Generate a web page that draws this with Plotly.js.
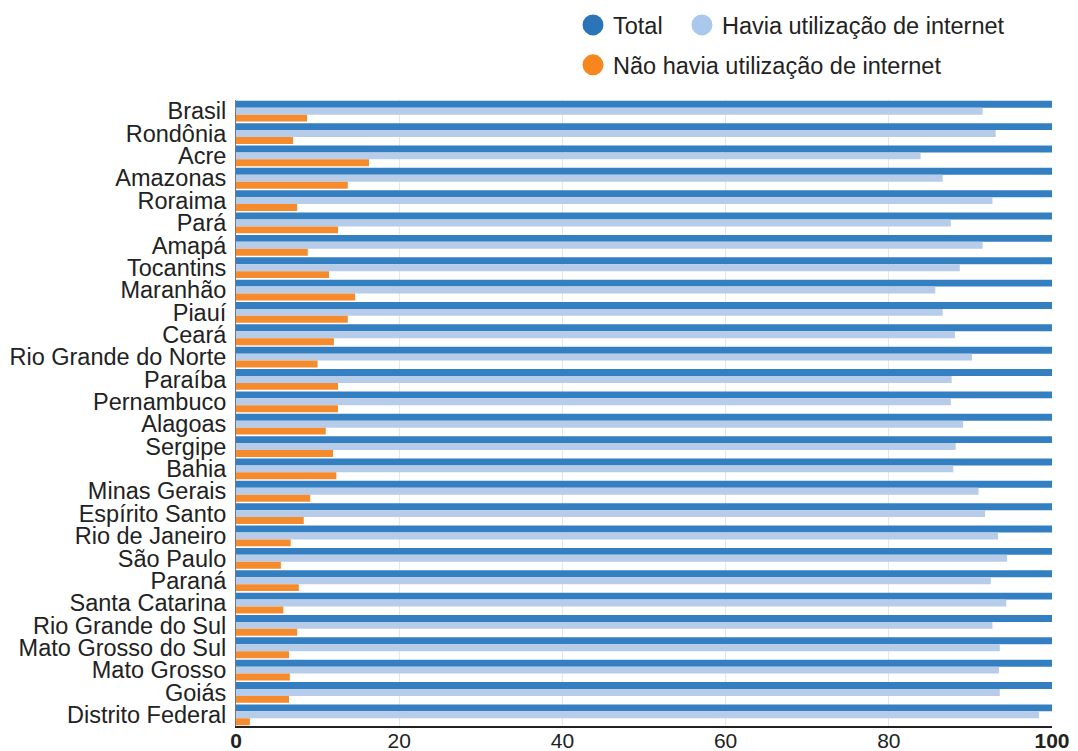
<!DOCTYPE html>
<html>
<head>
<meta charset="utf-8">
<script src="https://cdn.plot.ly/plotly-3.0.1.min.js"></script>
<style>html,body{margin:0;padding:0;background:#fff;}#chart{width:1078px;height:751px;}</style>
</head>
<body>
<div id="chart"></div>
<script>
var categories = ["Brasil","Rondônia","Acre","Amazonas","Roraima","Pará","Amapá","Tocantins","Maranhão","Piauí","Ceará","Rio Grande do Norte","Paraíba","Pernambuco","Alagoas","Sergipe","Bahia","Minas Gerais","Espírito Santo","Rio de Janeiro","São Paulo","Paraná","Santa Catarina","Rio Grande do Sul","Mato Grosso do Sul","Mato Grosso","Goiás","Distrito Federal"];
var total = [100,100,100,100,100,100,100,100,100,100,100,100,100,100,100,100,100,100,100,100,100,100,100,100,100,100,100,100];
var havia = [91.5,93.1,83.9,86.6,92.7,87.6,91.5,88.7,85.7,86.6,88.1,90.2,87.7,87.6,89.1,88.2,87.9,91.0,91.8,93.4,94.5,92.5,94.4,92.7,93.6,93.5,93.6,98.4];
var naoHavia = [8.7,7.0,16.3,13.7,7.5,12.5,8.8,11.4,14.6,13.7,12.0,10.0,12.5,12.5,11.0,11.9,12.3,9.1,8.3,6.7,5.5,7.7,5.8,7.5,6.5,6.6,6.5,1.7];
var seriesNames = ["Total","Havia utilização de internet","Não havia utilização de internet"];
var xTickVals = [0,20,40,60,80,100];
var xTickText = ["<b>0</b>","20","40","60","80","<b>100</b>"];

var colors = ["#337fc1","#b6cce8","#f68b2d"];
var legendColors = ["#2a74b8","#a9c8ec","#f7861f"];
var values = [total, havia, naoHavia];

var data = [];
for (var i = 0; i < 3; i++) {
  data.push({
    type: "bar", orientation: "h",
    x: values[i], y: categories,
    name: seriesNames[i],
    marker: {color: colors[i]},
    showlegend: false,
    hoverinfo: "x+y+name"
  });
}
var legendIds = ["legend","legend2","legend3"];
for (var j = 0; j < 3; j++) {
  data.push({
    type: "scatter", mode: "markers",
    x: [null], y: [null],
    name: seriesNames[j],
    legend: legendIds[j],
    marker: {color: legendColors[j], size: 16, symbol: "circle", line: {color: legendColors[j], width: 5}},
    showlegend: true,
    hoverinfo: "skip"
  });
}

var font = "Liberation Sans, Arial, sans-serif";
function leg(x, y) {
  return {
    orientation: "h", x: x, xanchor: "left", y: y, yanchor: "middle",
    font: {size: 23.5, color: "#222", family: font},
    bgcolor: "rgba(0,0,0,0)", itemclick: false, itemdoubleclick: false
  };
}
var layout = {
  width: 1078, height: 751,
  margin: {l: 236, r: 26, t: 100, b: 25, autoexpand: false},
  paper_bgcolor: "#ffffff", plot_bgcolor: "#ffffff",
  barmode: "group", bargap: 0.07, bargroupgap: 0,
  font: {family: font, color: "#222", size: 22},
  xaxis: {
    range: [0, 100], tickvals: xTickVals, ticktext: xTickText,
    showgrid: true, gridcolor: "#e6e6e6", gridwidth: 1,
    zeroline: false, showline: true, linecolor: "#222", linewidth: 2,
    ticks: "", ticklabelstandoff: -5,
    tickfont: {size: 21, color: "#222", family: font},
    fixedrange: true
  },
  yaxis: {
    type: "category", categoryorder: "array", categoryarray: categories,
    tickmode: "array", tickvals: categories, ticktext: categories,
    autorange: "reversed",
    showgrid: false, zeroline: false, showline: true, linecolor: "#777", linewidth: 1,
    ticks: "", ticklabelstandoff: 4,
    tickfont: {size: 23.5, color: "#222", family: font},
    fixedrange: true
  },
  legend: leg(0.413, 1.1196),
  legend2: leg(0.5465, 1.1196),
  legend3: leg(0.413, 1.0558),
  showlegend: true
};

Plotly.newPlot("chart", data, layout, {displayModeBar: false});
</script>
</body>
</html>
